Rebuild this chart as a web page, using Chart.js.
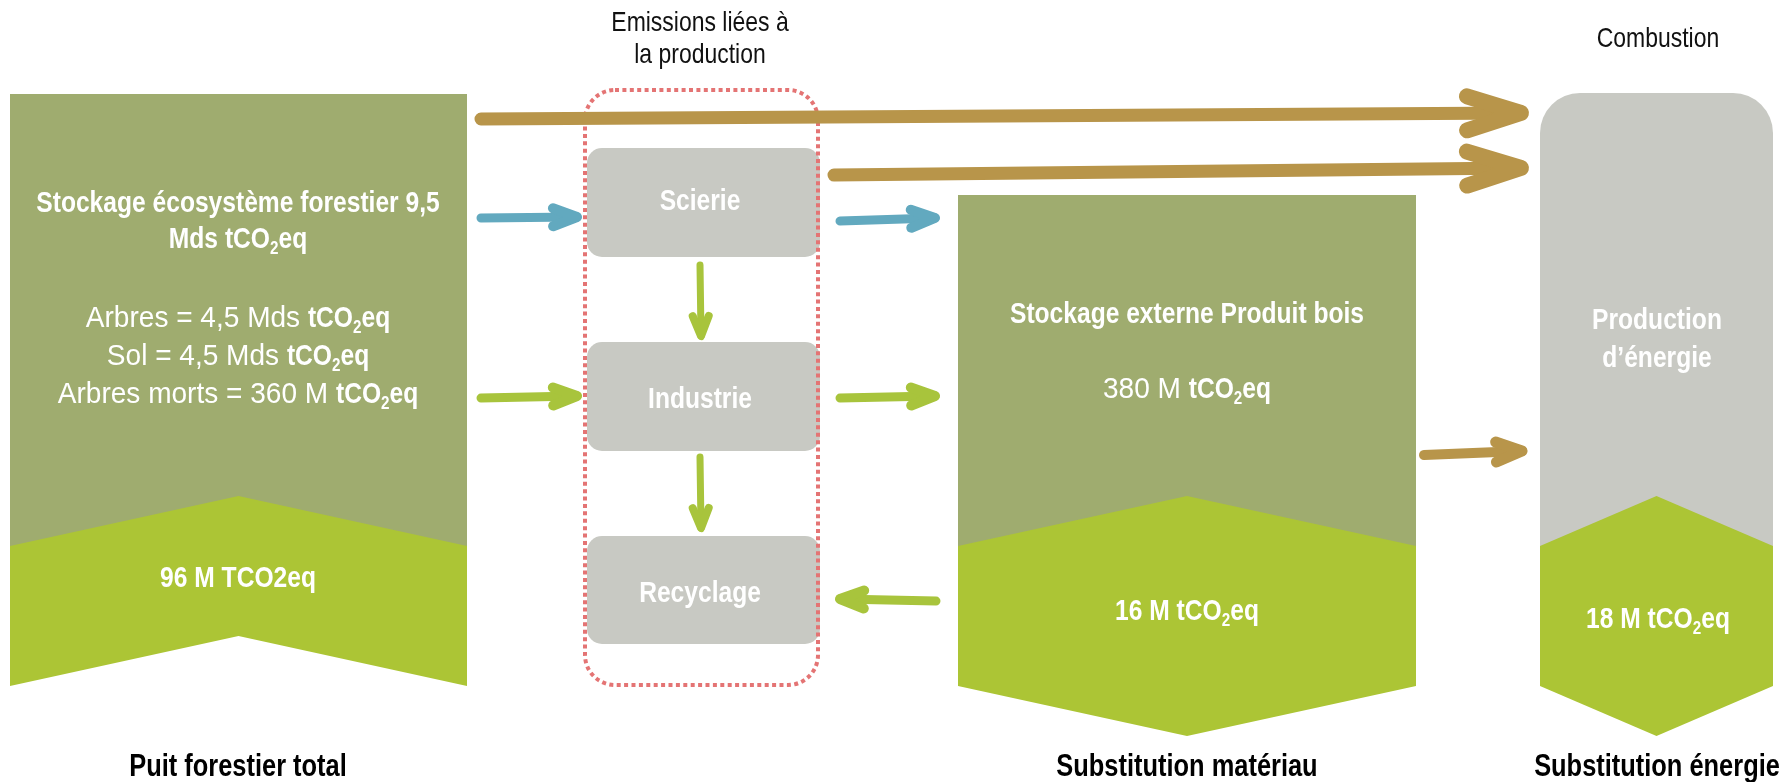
<!DOCTYPE html>
<html lang="fr">
<head>
<meta charset="UTF-8">
<title>Puit forestier et substitution</title>
<script src="https://cdn.jsdelivr.net/npm/chart.js@4.4.0/dist/chart.umd.min.js"></script>
<style>
    body { margin: 0; background: #fff; }
    #wrap { width: 1783px; height: 782px; }
</style>
</head>
<body>
<div id="wrap"><canvas id="flow" width="1783" height="782"></canvas></div>
<script>
// Values and labels ('*' toggles bold, '_' = subscript next char)
const processTitle = ['Emissions liées à', 'la production'];
const combustionTitle = ['Combustion'];
const stageTitles = ['Puit forestier total', 'Substitution matériau', 'Substitution énergie'];
const stageValues = ['96 M TCO2eq', '16 M tCO_2eq', '18 M tCO_2eq'];
const forestLines = ['Stockage écosystème forestier 9,5', 'Mds tCO_2eq'];
const forestDetail = ['Arbres = 4,5 Mds *tCO_2eq*', 'Sol = 4,5 Mds *tCO_2eq*', 'Arbres morts = 360 M *tCO_2eq*'];
const productLines = ['Stockage externe Produit bois'];
const productDetail = ['380 M *tCO_2eq*'];
const energyLines = ['Production', 'd’énergie'];
const processSteps = ['Scierie', 'Industrie', 'Recyclage'];

// colours
const DARK = '#9fac6f', LIGHT = '#acc535', GREY = '#c8c9c3';
const GOLD = '#b8954a', BLUE = '#62a9bf', LEAF = '#a8c43c', RED = '#e47474';

// layout in canvas units (x: 0..1783, y: 0..782 top-down)
const W = 1783, H = 782;
const columns = [
    { x0: 10, x1: 467, top: 94, fill: DARK, radius: 0, bottomTip: 636 },
    { x0: 958, x1: 1416, top: 195, fill: DARK, radius: 0, bottomTip: 736 },
    { x0: 1540, x1: 1773, top: 93, fill: GREY, radius: 40, bottomTip: 736 }
];
const band = { apex: 496, side: 546, bottom: 686 };
const stepBoxes = [[587, 148, 820, 257], [587, 342, 820, 451], [587, 536, 820, 644]];
const dottedFrame = [585, 90, 818, 685, 30];

const arrows = [
    { from: [481, 119], to: [1521, 113], colour: GOLD, width: 13, head: [54, 17], headWidth: 16 },
    { from: [834, 175], to: [1521, 168], colour: GOLD, width: 13, head: [54, 17], headWidth: 16 },
    { from: [481, 218], to: [577, 217], colour: BLUE, width: 9, head: [24, 9], headWidth: 10 },
    { from: [840, 221], to: [935, 218], colour: BLUE, width: 9, head: [24, 9], headWidth: 10 },
    { from: [481, 398], to: [577, 396], colour: LEAF, width: 9, head: [24, 9], headWidth: 10 },
    { from: [840, 398], to: [935, 396], colour: LEAF, width: 9, head: [24, 9], headWidth: 10 },
    { from: [700, 265], to: [701, 336], colour: LEAF, width: 7, head: [20, 8], headWidth: 8 },
    { from: [700, 457], to: [701, 528], colour: LEAF, width: 7, head: [20, 8], headWidth: 8 },
    { from: [936, 601], to: [840, 599], colour: LEAF, width: 9, head: [24, 9], headWidth: 10 },
    { from: [1424, 455], to: [1522, 451], colour: GOLD, width: 10, head: [26, 10], headWidth: 11 }
];

// font: prefer a narrow face, otherwise squeeze the regular one
const probe = document.createElement('canvas').getContext('2d');
probe.font = '40px monospace';
const monoW = probe.measureText('Stockage écosystème').width;
probe.font = '40px "Liberation Sans Narrow", monospace';
const hasNarrow = Math.abs(probe.measureText('Stockage écosystème').width - monoW) > 1;
const FAMILY = hasNarrow ? '"Liberation Sans Narrow", "Liberation Sans", sans-serif' : '"Liberation Sans", Arial, sans-serif';
const SQUASH = hasNarrow ? 1 : 0.82;

function parseRich(str, bold) {
    const runs = [];
    let buf = '';
    const push = () => { if (buf) runs.push({ t: buf, bold, sub: false }); buf = ''; };
    for (let i = 0; i < str.length; i++) {
        const c = str[i];
        if (c === '*') { push(); bold = !bold; }
        else if (c === '_') { push(); runs.push({ t: str[++i], bold, sub: true }); }
        else buf += c;
    }
    push();
    return runs;
}

// regStretch widens regular-weight runs (the original face is wider than Liberation Narrow)
function drawRich(ctx, str, cx, y, size, bold, colour, regStretch = 1) {
    const runs = parseRich(str, bold);
    const fontOf = r => (r.bold ? 'bold ' : '') + (r.sub ? size * 0.62 : size) + 'px ' + FAMILY;
    let total = 0;
    runs.forEach(r => {
        ctx.font = fontOf(r);
        r.k = SQUASH * (r.bold ? 1 : regStretch);
        r.w = ctx.measureText(r.t).width * r.k;
        total += r.w;
    });
    let x = cx - total / 2;
    ctx.fillStyle = colour;
    ctx.textAlign = 'left';
    ctx.textBaseline = 'alphabetic';
    runs.forEach(r => {
        ctx.font = fontOf(r);
        ctx.save();
        ctx.translate(x, y + (r.sub ? size * 0.2 : 0));
        ctx.scale(r.k, 1);
        ctx.fillText(r.t, 0, 0);
        ctx.restore();
        x += r.w;
    });
}

function lines(ctx, list, cx, y0, step, size, bold, colour, sx, sy, regStretch) {
    list.forEach((t, i) => drawRich(ctx, t, sx(cx), sy(y0 + i * step), size, bold, colour, regStretch));
}

const diagramPlugin = {
    id: 'diagram',
    beforeDatasetsDraw(chart) {
        const ctx = chart.ctx;
        const sx = v => chart.scales.x.getPixelForValue(v);
        const sy = v => chart.scales.y.getPixelForValue(v);

        // the three stock columns with their substitution chevrons
        columns.forEach(c => {
            const cx = (c.x0 + c.x1) / 2;
            ctx.fillStyle = c.fill;
            ctx.beginPath();
            ctx.roundRect(sx(c.x0), sy(c.top), sx(c.x1) - sx(c.x0), sy(band.side) - sy(c.top), [c.radius, c.radius, 0, 0]);
            ctx.fill();
            ctx.fillStyle = LIGHT;
            ctx.beginPath();
            ctx.moveTo(sx(c.x0), sy(band.side));
            ctx.lineTo(sx(cx), sy(band.apex));
            ctx.lineTo(sx(c.x1), sy(band.side));
            ctx.lineTo(sx(c.x1), sy(band.bottom));
            ctx.lineTo(sx(cx), sy(c.bottomTip));
            ctx.lineTo(sx(c.x0), sy(band.bottom));
            ctx.closePath();
            ctx.fill();
        });

        // production steps
        stepBoxes.forEach(b => {
            ctx.fillStyle = GREY;
            ctx.beginPath();
            ctx.roundRect(sx(b[0]), sy(b[1]), sx(b[2]) - sx(b[0]), sy(b[3]) - sy(b[1]), 15);
            ctx.fill();
        });

        // dotted frame round the production steps
        const f = dottedFrame;
        ctx.save();
        ctx.strokeStyle = RED;
        ctx.lineWidth = 4;
        ctx.setLineDash([4, 3.4]);
        ctx.beginPath();
        ctx.roundRect(sx(f[0]), sy(f[1]), sx(f[2]) - sx(f[0]), sy(f[3]) - sy(f[1]), f[4]);
        ctx.stroke();
        ctx.restore();

        // texts
        lines(ctx, processTitle, 700, 31, 32, 28, false, '#111', sx, sy);
        lines(ctx, combustionTitle, 1658, 47, 0, 28, false, '#111', sx, sy);
        lines(ctx, forestLines, 238, 212, 36, 30, true, '#fff', sx, sy);
        lines(ctx, forestDetail, 238, 327, 38, 30, false, '#fff', sx, sy, 1.14);
        lines(ctx, productLines, 1187, 323, 0, 30, true, '#fff', sx, sy);
        lines(ctx, productDetail, 1187, 398, 0, 30, false, '#fff', sx, sy, 1.14);
        lines(ctx, energyLines, 1657, 329, 38, 30, true, '#fff', sx, sy);
        const valueX = [238, 1187, 1658], valueY = [587, 620, 628];
        stageValues.forEach((t, i) => drawRich(ctx, t, sx(valueX[i]), sy(valueY[i]), 30, true, '#fff'));
        const stepY = [210, 408, 602];
        processSteps.forEach((t, i) => drawRich(ctx, t, sx(700), sy(stepY[i]), 30, true, '#fff'));
        const titleX = [238, 1187, 1657];
        stageTitles.forEach((t, i) => drawRich(ctx, t, sx(titleX[i]), sy(776), 31, true, '#000'));
    },
    afterDatasetsDraw(chart) {
        // open arrow heads at the end of each flow line
        const ctx = chart.ctx;
        chart.data.datasets.forEach((ds, i) => {
            const pts = chart.getDatasetMeta(i).data;
            const a = pts[pts.length - 2], b = pts[pts.length - 1];
            const ang = Math.atan2(b.y - a.y, b.x - a.x);
            const [len, half] = ds.head;
            ctx.save();
            ctx.translate(b.x, b.y);
            ctx.rotate(ang);
            ctx.strokeStyle = ds.borderColor;
            ctx.lineWidth = ds.headWidth;
            ctx.lineCap = 'round';
            ctx.lineJoin = 'round';
            ctx.beginPath();
            ctx.moveTo(-len, -half);
            ctx.lineTo(0, 0);
            ctx.lineTo(-len, half);
            ctx.stroke();
            ctx.restore();
        });
    }
};

new Chart(document.getElementById('flow'), {
    type: 'scatter',
    data: {
        datasets: arrows.map(a => ({
            data: [{ x: a.from[0], y: a.from[1] }, { x: a.to[0], y: a.to[1] }],
            showLine: true,
            borderColor: a.colour,
            borderWidth: a.width,
            borderCapStyle: 'round',
            pointRadius: 0,
            pointHoverRadius: 0,
            head: a.head,
            headWidth: a.headWidth
        }))
    },
    options: {
        responsive: false,
        animation: false,
        events: [],
        layout: { padding: 0 },
        plugins: { legend: { display: false }, tooltip: { enabled: false } },
        scales: {
            x: { type: 'linear', min: 0, max: W, display: false },
            y: { type: 'linear', min: 0, max: H, reverse: true, display: false }
        }
    },
    plugins: [diagramPlugin]
});
</script>
</body>
</html>
